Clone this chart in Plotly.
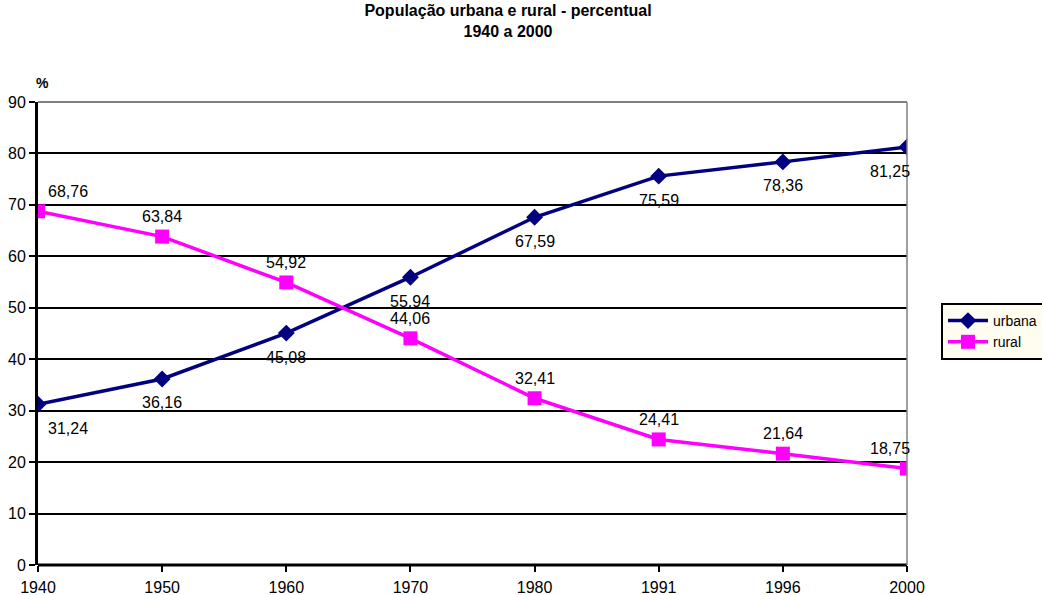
import plotly.graph_objects as go

# Census years and shares of population (%)
anos = ["1940", "1950", "1960", "1970", "1980", "1991", "1996", "2000"]
urbana = [31.24, 36.16, 45.08, 55.94, 67.59, 75.59, 78.36, 81.25]
rural = [68.76, 63.84, 54.92, 44.06, 32.41, 24.41, 21.64, 18.75]
y_ticks = [0, 10, 20, 30, 40, 50, 60, 70, 80, 90]

FONT = "Liberation Sans, Arial, sans-serif"
AZUL = "#000080"
MAGENTA = "#FF00FF"

fig = go.Figure()
fig.add_trace(go.Scatter(
    x=list(range(len(anos))), y=urbana, name="urbana", mode="lines+markers",
    line=dict(color=AZUL, width=3.5),
    marker=dict(symbol="diamond", size=13, color=AZUL),
))
fig.add_trace(go.Scatter(
    x=list(range(len(anos))), y=rural, name="rural", mode="lines+markers",
    line=dict(color=MAGENTA, width=3.5),
    marker=dict(symbol="square", size=14, color=MAGENTA),
))


def fmt(v):
    return f"{v:.2f}".replace(".", ",")


def xshift_for(i):
    if i == 0:
        return 30
    if i == len(anos) - 1:
        return -17
    return 0


annotations = []
for i, v in enumerate(urbana):
    annotations.append(dict(x=i, y=v, text=fmt(v), showarrow=False,
                            xshift=xshift_for(i), yshift=-24,
                            font=dict(family=FONT, size=16, color="#000")))
for i, v in enumerate(rural):
    annotations.append(dict(x=i, y=v, text=fmt(v), showarrow=False,
                            xshift=xshift_for(i), yshift=20,
                            font=dict(family=FONT, size=16, color="#000")))
annotations.append(dict(xref="paper", yref="paper", x=0.005, y=1,
                        xanchor="center", yanchor="middle", yshift=19,
                        text="<b>%</b>", showarrow=False,
                        font=dict(family=FONT, size=14, color="#000")))

fig.update_layout(
    width=1042, height=595,
    margin=dict(l=38, r=135, t=102, b=30, autoexpand=False),
    paper_bgcolor="white", plot_bgcolor="white",
    font=dict(family=FONT, size=16, color="#000"),
    title=dict(text="<b>População urbana e rural - percentual<br>1940 a 2000</b>",
               xref="container", x=508 / 1042, xanchor="center",
               y=1 - 16 / 595, yanchor="top",
               font=dict(family=FONT, size=16, color="#000")),
    xaxis=dict(range=[0, len(anos) - 1], tickmode="array",
               tickvals=list(range(len(anos))), ticktext=anos,
               showgrid=False, zeroline=False, showline=False, automargin=False,
               ticks="outside", ticklen=6, tickwidth=2, tickcolor="#000",
               ticklabelstandoff=2,
               tickfont=dict(family=FONT, size=16)),
    yaxis=dict(range=[0, 90], tickmode="array", tickvals=y_ticks,
               showgrid=True, gridcolor="#000", gridwidth=1.5, automargin=False,
               zeroline=False, showline=True, linecolor="#000", linewidth=3,
               ticks="outside", ticklen=6, tickwidth=2, tickcolor="#000",
               tickfont=dict(family=FONT, size=16)),
    legend=dict(x=941 / 1042, xref="container", y=1 - 303 / 595, yref="container",
                xanchor="left", yanchor="top",
                bgcolor="#FFFCF0", bordercolor="#000", borderwidth=2,
                font=dict(family=FONT, size=14, color="#000"),
                tracegroupgap=0, itemwidth=40),
    annotations=annotations,
    showlegend=True,
)

# bottom axis line, gray top and right borders of the plot area
fig.add_shape(type="line", xref="paper", yref="paper", x0=0, x1=1, y0=0, y1=0,
              line=dict(color="#000", width=3), layer="above")
fig.add_shape(type="line", xref="paper", yref="paper", x0=0, x1=1, y0=1, y1=1,
              line=dict(color="#808080", width=2), layer="above")
fig.add_shape(type="line", xref="paper", yref="paper", x0=1, x1=1, y0=0, y1=1,
              line=dict(color="#808080", width=1.5), layer="above")

fig.write_html("out.html")
